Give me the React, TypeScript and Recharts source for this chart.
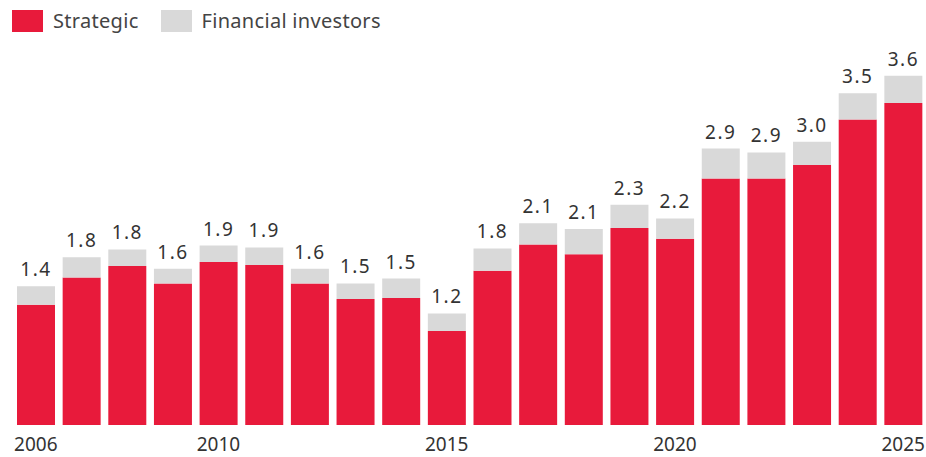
import { BarChart, Bar, XAxis, YAxis, LabelList } from 'recharts'

const years = ['2006', '2007', '2008', '2009', '2010', '2011', '2012', '2013', '2014', '2015',
  '2016', '2017', '2018', '2019', '2020', '2021', '2022', '2023', '2024', '2025']
const strategic = [1.24, 1.52, 1.64, 1.46, 1.68, 1.65, 1.46, 1.30, 1.31, 0.97,
  1.59, 1.86, 1.76, 2.03, 1.92, 2.54, 2.54, 2.68, 3.15, 3.32]
const financial = [0.19, 0.21, 0.17, 0.15, 0.17, 0.18, 0.15, 0.16, 0.20, 0.18,
  0.23, 0.22, 0.26, 0.24, 0.21, 0.31, 0.27, 0.24, 0.27, 0.28]
const totals = ['1.4', '1.8', '1.8', '1.6', '1.9', '1.9', '1.6', '1.5', '1.5', '1.2',
  '1.8', '2.1', '2.1', '2.3', '2.2', '2.9', '2.9', '3.0', '3.5', '3.6']
const shownYears = ['2006', '2010', '2015', '2020', '2025']

const RED = '#e81a3b'
const GREY = '#d9d9d9'
const FONT = '"Noto Sans", sans-serif'

const data = years.map((y, i) => ({
  year: y,
  strategic: strategic[i],
  financial: financial[i],
  label: totals[i],
}))

function LegendItem({ color, text }: { color: string; text: string }) {
  return (
    <div style={{ display: 'flex', alignItems: 'center', marginRight: 22 }}>
      <span style={{ width: 31, height: 22, background: color, display: 'inline-block', marginRight: 10 }} />
      <span style={{ fontSize: 20, color: '#444', letterSpacing: 0.3 }}>{text}</span>
    </div>
  )
}

export default function App() {
  return (
    <div style={{ position: 'absolute', left: 0, top: 0, width: 926, height: 457, fontFamily: FONT }}>
      <div style={{ position: 'absolute', left: 12, top: 9, display: 'flex', height: 23, alignItems: 'center' }}>
        <LegendItem color={RED} text="Strategic" />
        <LegendItem color={GREY} text="Financial investors" />
      </div>
      <BarChart
        width={926}
        height={457}
        data={data}
        margin={{ top: 37, right: 0, left: 13, bottom: 0 }}
        barSize={38}
      >
        <XAxis
          dataKey="year"
          interval={0}
          axisLine={false}
          tickLine={false}
          tickMargin={7}
          height={32}
          tick={{ fontSize: 19, fill: '#333', fontFamily: FONT }}
          tickFormatter={(v: string) => (shownYears.includes(v) ? v : '')}
        />
        <YAxis hide domain={[0, 4]} />
        <Bar dataKey="strategic" stackId="a" fill={RED} isAnimationActive={false} />
        <Bar dataKey="financial" stackId="a" fill={GREY} isAnimationActive={false}>
          <LabelList
            dataKey="label"
            position="top"
            offset={10}
            style={{ fontSize: 19, fill: '#333', fontFamily: FONT, letterSpacing: 1.5 }}
          />
        </Bar>
      </BarChart>
    </div>
  )
}
